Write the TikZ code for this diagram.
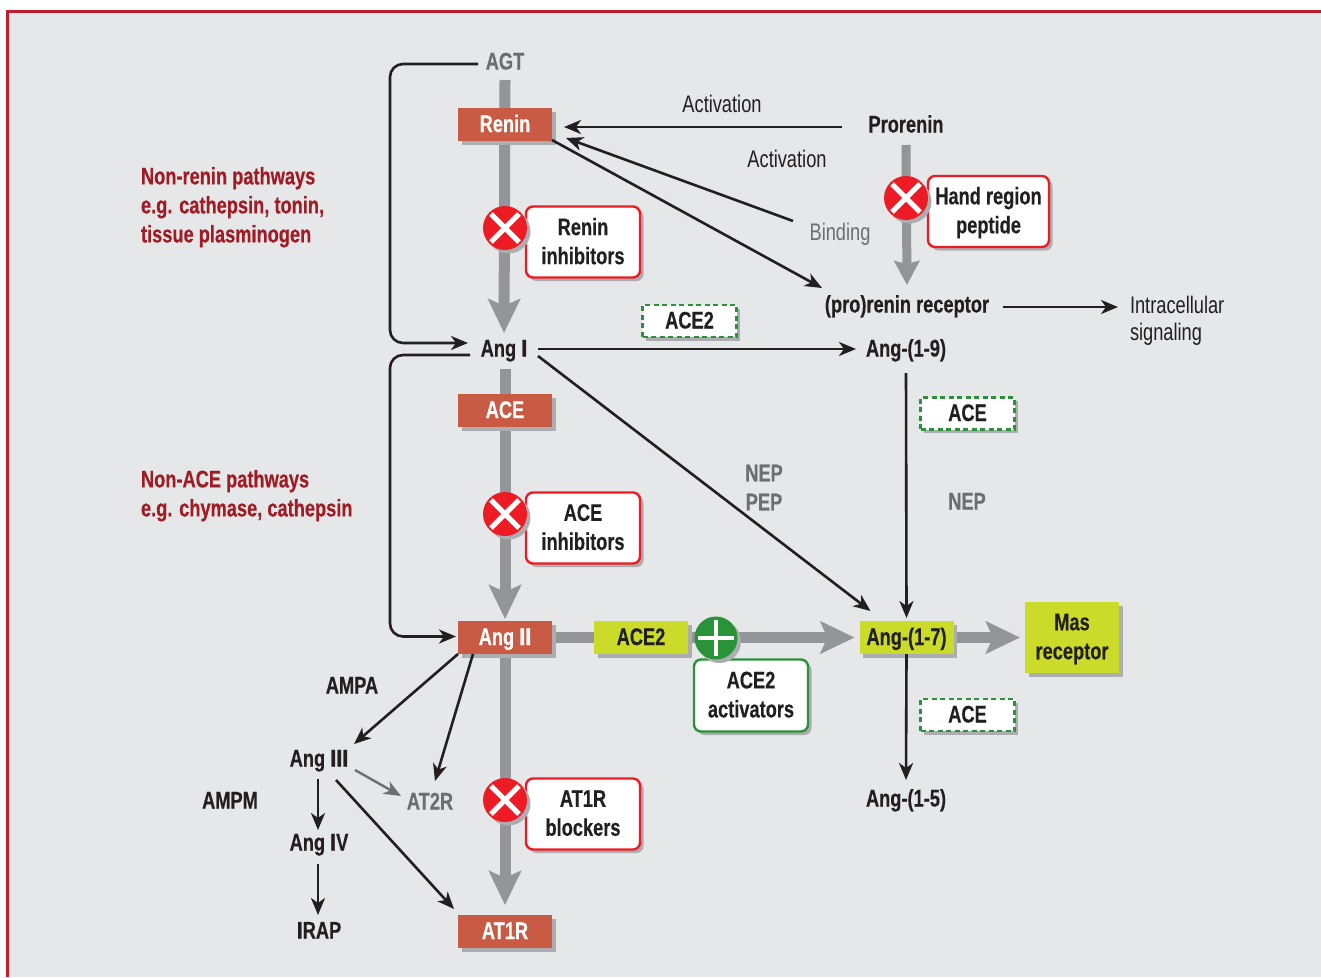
\documentclass[tikz,border=0pt]{standalone}
\usepackage{fontspec}
\setmainfont{Liberation Sans}[FakeStretch=0.76,BoldFeatures={FakeBold=0.35}]
\newfontfamily\hv{Liberation Sans}[FakeStretch=0.9,BoldFeatures={FakeBold=1.5}]
\usetikzlibrary{arrows.meta,shadows,backgrounds,positioning}
\definecolor{panel}{HTML}{E6E7E9}
\definecolor{frame}{HTML}{BE1E2D}
\definecolor{ink}{HTML}{231F20}
\definecolor{midgray}{HTML}{6D6E71}
\definecolor{shaft}{HTML}{939598}
\definecolor{shade}{HTML}{ABADB0}
\definecolor{brick}{HTML}{C95A43}
\definecolor{lime}{HTML}{CBDB2A}
\definecolor{stopred}{HTML}{ED1C24}
\definecolor{gogreen}{HTML}{2A9339}
\definecolor{darkred}{HTML}{A01C24}
\newcommand{\dn}{\rule[-2pt]{0pt}{0pt}}
\tikzset{
  x=1pt,y=-1pt,
  base/.style={inner sep=0pt,outer sep=0pt,align=center,font=\fontsize{24}{29}\selectfont\bfseries,text=ink},
  one/.style={text height=15pt,text depth=0pt},
  lbl/.style={base,one},
  thin/.style={base,one,font=\fontsize{24}{29}\selectfont\mdseries},
  side/.style={base,text=darkred,align=left,anchor=north west},
  sh/.style={drop shadow={shadow xshift=3.5pt,shadow yshift=-3.5pt,fill=shade,opacity=1}},
  enzyme/.style={base,one,fill=brick,text=white,minimum width=94pt,minimum height=33pt,sh},
  limebox/.style={base,fill=lime,minimum width=94pt,minimum height=33pt,sh},
  callout/.style={base,fill=white,draw=stopred,line width=2.4pt,rounded corners=7pt,minimum width=114pt,minimum height=71pt,sh},
  dashbox/.style={base,one,fill=white,draw=gogreen,line width=2.4pt,dash pattern=on 5pt off 3.5pt,minimum width=94pt,minimum height=32pt,sh},
  xcirc/.style={circle,fill=stopred,inner sep=0pt,minimum size=44pt,sh,
    path picture={\draw[white,line width=5pt] (path picture bounding box.center) ++(14pt,14pt) -- ++(-28pt,-28pt);
                  \draw[white,line width=5pt] (path picture bounding box.center) ++(14pt,-14pt) -- ++(-28pt,28pt);}},
  pluscirc/.style={circle,fill=gogreen,inner sep=0pt,minimum size=43pt,sh,
    path picture={\draw[white,line width=4.5pt] (path picture bounding box.center) ++(18pt,0pt) -- ++(-36pt,0pt);
                  \draw[white,line width=4.5pt] (path picture bounding box.center) ++(0pt,18pt) -- ++(0pt,-36pt);}},
  arr/.style={draw=ink,line width=2.6pt,-{Stealth[length=17pt,width=14pt,inset=5pt]}},
  grayarr/.style={draw=midgray,line width=2.4pt,-{Stealth[length=17pt,width=14pt,inset=5pt]}},
  fat/.style={draw=shaft,line width=11pt,-{Stealth[length=34pt,width=32pt,inset=7pt]}},
  fatsmall/.style={draw=shaft,line width=9pt,-{Stealth[length=24pt,width=25pt,inset=3pt]}},
}
\begin{document}
\begin{tikzpicture}
\useasboundingbox (0,0) rectangle (1321,977);
% text nodes (size fixes their connecting anchors)
\node[lbl,text=midgray,minimum width=54pt,minimum height=36pt] (agt) at (505,62) {AGT};
\node[lbl,minimum width=68pt,minimum height=26pt] (angI) at (504,349) {Ang {\hv I}};
\node[lbl,minimum width=128pt,minimum height=34pt] (prorenin) at (906,125) {Prorenin};
\node[thin,text=midgray,minimum width=64pt,minimum height=26pt] (binding) at (840,233) {Binding};
\node[lbl,minimum width=172pt,minimum height=30pt] (prr) at (907,305) {(pro)renin receptor};
\node[lbl,minimum width=88pt,minimum height=48pt] (a19) at (906,349) {Ang-(1-9)};
\node[lbl,minimum width=88pt,minimum height=30pt] (a15) at (906,799) {Ang-(1-5)};
\node[base,font=\fontsize{24}{27}\selectfont\mdseries,align=left,anchor=north west] (intra) at (1130,296) {Intracellular\\signaling};
\coordinate (intraend) at (1118,307);
\node[lbl,minimum width=60pt,minimum height=30pt] (a3) at (319,759) {Ang {\hv III}};
\node[lbl,minimum width=60pt,minimum height=30pt] (a4) at (319,843) {Ang {\hv I}V};
\node[lbl,minimum width=40pt,minimum height=30pt] (irap) at (319,931) {{\hv I}RAP};
\node[lbl,text=midgray,minimum width=50pt,minimum height=24pt] (at2) at (430,802) {AT2R};
% boxes
\node[enzyme] (renin) at (505,124.5) {Renin};
\node[enzyme] (ace) at (505,410.5) {ACE};
\node[enzyme] (ang2) at (505,637.5) {Ang {\hv II}};
\node[enzyme] (at1) at (505,931.5) {AT1R};
\node[limebox,one] (ace2g) at (641,637.5) {ACE2};
\node[limebox,one] (a17) at (906.5,637.5) {Ang-(1-7)};
\node[limebox,minimum height=71pt] (mas) at (1072,637.5) {\rule{0pt}{19.5pt}Mas\\receptor};
% callouts
\node[callout] (ri) at (583,242) {Renin\\inhibitors\dn};
\node[callout] (ai) at (583,528) {ACE\\inhibitors\dn};
\node[callout] (ab) at (583,814) {AT1R\\blockers\dn};
\node[callout,minimum width=121pt] (hr) at (988.5,211.5) {\rule{0pt}{19.5pt}Hand region\\peptide};
\node[callout,draw=gogreen,minimum height=72pt] (ac) at (751,695.5) {ACE2\\activators\dn};
\node[xcirc] (xri) at (505,228) {};
\node[xcirc] (xai) at (505,514) {};
\node[xcirc] (xab) at (505,800) {};
\node[xcirc] (xhr) at (906,198) {};
\node[pluscirc] (pl) at (716,638) {};
\node[dashbox] (d1) at (689.5,321) {ACE2};
\node[dashbox] (d2) at (967.5,413.5) {ACE};
\node[dashbox] (d3) at (967.5,715) {ACE};
% plain labels
\node[side] (t1) at (141,167) {Non-renin pathways\\e.g. cathepsin, tonin,\\tissue plasminogen};
\node[side] (t2) at (141,470) {Non-ACE pathways\\e.g. chymase, cathepsin};
\node[thin] (act1) at (722,105) {Activation};
\node[thin] (act2) at (787,160) {Activation};
\node[base,text=midgray] (nep1) at (764,487.5) {NEP\\PEP};
\node[lbl,text=midgray] (nep2) at (967,502) {NEP};
\node[lbl] (ampa) at (352,686) {AMPA};
\node[lbl] (ampm) at (230,801) {AMPM};
% background and thick pathways
\begin{scope}[on background layer]
\fill[panel] (8,12) rectangle (1321,977);
\draw[frame,line width=3pt] (7,977) -- (7,11) -- (1321,11);
\draw[fat] (agt.south) -- ([yshift=3pt]angI.north);
\draw[fat] (angI.south) ++(1pt,-7pt) -- ([yshift=2pt]ang2.north);
\draw[fat] (ang2.south) -- ([yshift=10pt]at1.north);
\draw[fat,shorten >=5pt] (ang2.east) -- (a17.west);
\draw[fat,shorten >=5pt] (a17.east) -- (mas.west);
\draw[fatsmall] (prorenin.south) ++(0pt,-3pt) -- ([yshift=5pt]prr.north);
\end{scope}
% thin connectors
\draw[arr,rounded corners=13pt] ([yshift=-2pt]agt.west) -| (390,200) |- ([xshift=-2pt,yshift=6pt]angI.west);
\draw[arr,rounded corners=13pt] ([yshift=-6pt]angI.west) -| (390,500) |- ([xshift=-2pt,yshift=1pt]ang2.west);
\draw[arr] ([yshift=-2pt]prorenin.west) -- ([xshift=12pt,yshift=-2.5pt]renin.east);
\draw[arr] ([xshift=-15pt,yshift=-1pt]binding.north west) -- ([xshift=14pt,yshift=-13.5pt]renin.east);
\draw[arr] ([yshift=1pt]renin.south east) -- ([xshift=1pt,yshift=2pt]prr.north west);
\draw[arr] ([yshift=-2pt]prr.east) ++(10pt,0pt) -- (intraend);
\draw[arr] (angI.east) -- ([xshift=-6pt]a19.west);
\draw[arr] ([yshift=-7pt]angI.east) -- ([xshift=-36pt,yshift=10pt]a17.north);
\draw[arr] (a19.south) -- ([yshift=3pt]a17.north);
\draw[arr] (a17.south) -- ([yshift=4pt]a15.north);
\draw[arr] (ang2.south west) -- ([xshift=5pt]a3.north east);
\draw[arr] ([xshift=15pt]ang2.south west) -- ([xshift=5pt,yshift=9pt]at2.north);
\draw[grayarr] ([xshift=6pt,yshift=4pt]a3.south east) -- ([xshift=-4pt,yshift=6pt]at2.west);
\draw[arr] ([xshift=-13pt,yshift=-6pt]a3.south east) -- ([xshift=-4pt,yshift=6pt]at1.north west);
\draw[arr] ([xshift=-1pt,yshift=-5pt]a3.south) -- ([xshift=-1pt,yshift=-2pt]a4.north);
\draw[arr] ([xshift=-1pt,yshift=-6pt]a4.south) -- ([xshift=-1pt,yshift=1pt]irap.north);
\end{tikzpicture}
\end{document}
